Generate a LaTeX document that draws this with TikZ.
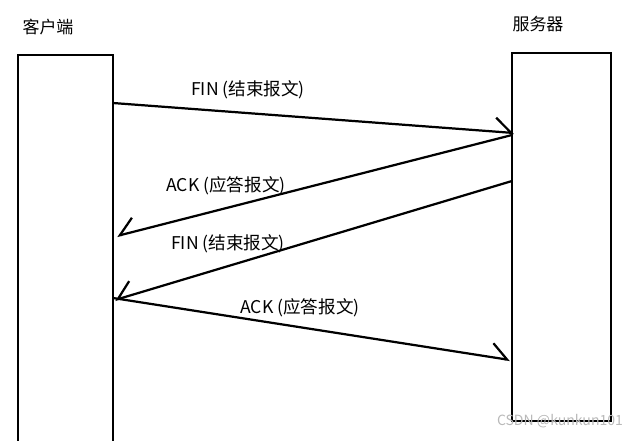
\documentclass[tikz,border=0pt]{standalone}
\usepackage{fontspec}
\setmainfont{Noto Sans CJK SC}
\usetikzlibrary{arrows.meta}

\begin{document}
\begin{tikzpicture} [x=0.03cm, y=-0.03cm,
  host/.style={draw, line width=1.9pt, inner sep=0},
  msgr/.style={line width=1.9pt, -{Straight Barb[left, length=0.48cm, width=0.84cm]}},
  msgl/.style={line width=1.9pt, -{Straight Barb[right, length=0.48cm, width=0.84cm]}},
  lbl/.style={font=\fontsize{15}{17}\selectfont}]
\useasboundingbox (0,0) rectangle (640,440);
\node[host, minimum width=2.85cm, minimum height=11.7cm] (client) at (65.5,250) {};
\node[host, minimum width=2.97cm, minimum height=11.04cm] (server) at (561.5,237) {};
\node[font=\fontsize{14.5}{17}\selectfont] (cname) at (48,27) {客户端};
\node[font=\fontsize{14.5}{17}\selectfont] (sname) at (538,24) {服务器};
\coordinate (c1) at (113,103);
\coordinate (s1) at (514,133);
\coordinate (s2) at (512,135);
\coordinate (c2) at (117,236);
\coordinate (s3) at (512,181);
\coordinate (c3) at (115,300);
\coordinate (c4) at (113,298);
\coordinate (s4) at (510,360);
\draw[msgr] (c1) -- (s1);
\draw[msgl] (s2) -- (c2);
\draw[msgl] (s3) -- (c3);
\draw[msgr] (c4) -- (s4);
\node[lbl] (fin1) at (248,90) {FIN (结束报文)};
\node[lbl] (ack1) at (226,186) {ACK (应答报文)};
\node[lbl] (fin2) at (228,244) {FIN (结束报文)};
\node[lbl] (ack2) at (300,308) {ACK (应答报文)};
\node[text=gray!55, font=\fontsize{12}{14}\selectfont] (mark) at (560,421) {CSDN @kunkun101};
\end{tikzpicture}
\end{document}
